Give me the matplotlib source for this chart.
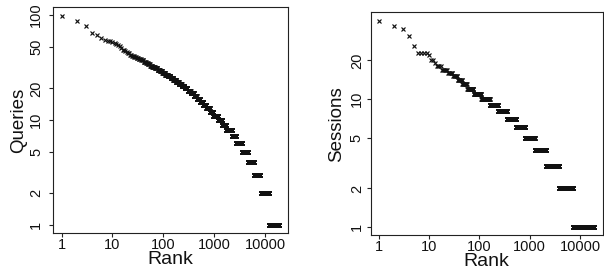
import numpy as np
import matplotlib
matplotlib.use("Agg")
import matplotlib.pyplot as plt
from matplotlib.ticker import FixedLocator, FixedFormatter, NullLocator

# ---- data: run-length description of count vs. rank ----
# Queries per rank: (count value, first rank having that count)
q_values = [98, 88, 78, 68, 65, 60, 58, 57, 56, 55, 54, 53, 52, 51, 48, 46, 45, 44,
            43, 42, 41, 40, 39, 38, 37, 36, 35, 34, 33, 32, 31, 30, 29, 28, 27, 26,
            25, 24, 23, 22, 21, 20, 19, 18, 17, 16, 15, 14, 13, 12, 11, 10, 9, 8,
            7, 6, 5, 4, 3, 2, 1]
q_starts = [1, 2, 3, 4, 5, 6, 7, 8, 9, 10, 11, 12, 13, 14, 15, 16, 18, 19,
            20, 22, 24, 27, 30, 33, 37, 41, 46, 50, 55, 61, 69, 77, 86, 96, 109, 123,
            139, 157, 178, 201, 229, 261, 299, 343, 396, 451, 521, 601, 701, 811, 961, 1201, 1421, 1721,
            2201, 2701, 3501, 4601, 6001, 8101, 11901]
q_last_rank = 19000

# Sessions per rank
s_values = [41, 37, 35, 31, 26, 23, 22, 20, 19, 18, 17, 16, 15, 14, 13, 12, 11,
            10, 9, 8, 7, 6, 5, 4, 3, 2, 1]
s_starts = [1, 2, 3, 4, 5, 6, 10, 11, 13, 14, 18, 24, 30, 37, 46, 57, 77,
            109, 161, 234, 351, 531, 801, 1251, 2151, 3901, 7401]
s_last_rank = 19000

x_ticks = [1, 10, 100, 1000, 10000]
x_tick_labels = ["1", "10", "100", "1000", "10000"]
q_y_ticks = [1, 2, 5, 10, 20, 50, 100]
q_y_tick_labels = ["1", "2", "5", "10", "20", "50", "100"]
s_y_ticks = [1, 2, 5, 10, 20]
s_y_tick_labels = ["1", "2", "5", "10", "20"]


def expand(values, starts, last):
    ends = list(np.array(starts[1:]) - 1) + [last]
    r = np.concatenate([np.arange(a, b + 1) for a, b in zip(starts, ends)])
    v = np.concatenate([np.full(b - a + 1, val) for val, a, b in zip(values, starts, ends)])
    return r, v


plt.rcParams['font.family'] = ['Liberation Sans Narrow', 'Liberation Sans', 'DejaVu Sans']

W, H = 604, 269
fig = plt.figure(figsize=(W / 100, H / 100), dpi=100)


def make_axes(x0, x1, ytop, ybot):
    return fig.add_axes([x0 / W, (H - ybot) / H, (x1 - x0) / W, (ybot - ytop) / H])


axL = make_axes(53, 288, 7, 233)
axR = make_axes(370.5, 602.5, 12.3, 235)

rq, vq = expand(q_values, q_starts, q_last_rank)
rs, vs = expand(s_values, s_starts, s_last_rank)

for ax, r, v, yt, ytl, ylim, ylab, ypad, lab_x, lab_y in [
    (axL, rq, vq, q_y_ticks, q_y_tick_labels, (0.839, 119.2), "Queries", 4.0, -0.146, -0.119),
    (axR, rs, vs, s_y_ticks, s_y_tick_labels, (0.866, 47.6), "Sessions", 1.8, -0.145, -0.121),
]:
    ax.plot(r, v, linestyle='none', marker='x', color='#111111', markersize=3.5,
            markeredgewidth=0.85)
    ax.set_xscale('log')
    ax.set_yscale('log')
    ax.set_xlim(0.68, 28100)
    ax.set_ylim(*ylim)
    ax.xaxis.set_major_locator(FixedLocator(x_ticks))
    ax.xaxis.set_major_formatter(FixedFormatter(x_tick_labels))
    ax.xaxis.set_minor_locator(NullLocator())
    ax.yaxis.set_major_locator(FixedLocator(yt))
    ax.yaxis.set_major_formatter(FixedFormatter(ytl))
    ax.yaxis.set_minor_locator(NullLocator())
    ax.tick_params(axis='both', direction='out', length=3.0, width=0.8,
                   color='#222222', labelsize=10.5, labelcolor='#111111')
    ax.tick_params(axis='x', pad=0.8)
    ax.tick_params(axis='y', pad=ypad)
    for lbl in ax.get_yticklabels():
        lbl.set_rotation(90)
        lbl.set_va('center')
        lbl.set_ha('right')
    for sp in ax.spines.values():
        sp.set_linewidth(0.8)
        sp.set_color('#222222')
    ax.set_ylabel(ylab, fontsize=13.5, va='center', color='#111111')
    ax.yaxis.set_label_coords(lab_x, 0.5)
    ax.set_xlabel("Rank", fontsize=14, va='center', color='#111111')
    ax.xaxis.set_label_coords(0.5, lab_y)

fig.savefig("out.png", dpi=100)
